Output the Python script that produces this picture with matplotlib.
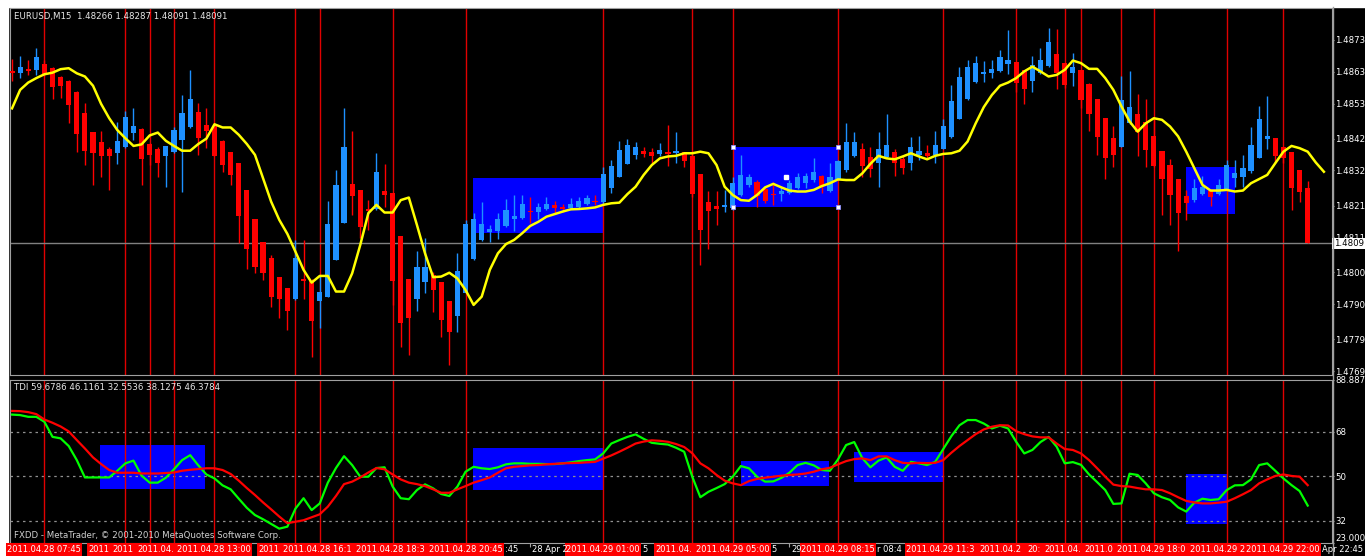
import numpy as np
import pandas as pd
import matplotlib.pyplot as plt
from matplotlib.patches import Rectangle
from matplotlib.lines import Line2D

# EURUSD M15 candles, 2011.04.28 06:45 .. 2011.04.29 22:45
open_ = [1.48631, 1.48627, 1.48639, 1.48634, 1.48655, 1.48641, 1.48613, 1.48600, 1.48566, 1.48499,
         1.48441, 1.48410, 1.48387, 1.48376, 1.48393, 1.48439, 1.48450, 1.48402, 1.48387, 1.48364,
         1.48379, 1.48415, 1.48456, 1.48502, 1.48463, 1.48460, 1.48413, 1.48378, 1.48343, 1.48259,
         1.48168, 1.48094, 1.48046, 1.47985, 1.47951, 1.47915, 1.47978, 1.47974, 1.47911, 1.47924,
         1.48039, 1.48154, 1.48277, 1.48259, 1.48198, 1.48199, 1.48257, 1.48250, 1.48114, 1.47979,
         1.47916, 1.47969, 1.47992, 1.47970, 1.47910, 1.47863, 1.47934, 1.48041, 1.48102, 1.48127,
         1.48131, 1.48147, 1.48167, 1.48172, 1.48193, 1.48191, 1.48198, 1.48212, 1.48204, 1.48203,
         1.48206, 1.48214, 1.48224, 1.48220, 1.48264, 1.48300, 1.48341, 1.48369, 1.48381, 1.48377,
         1.48371, 1.48377, 1.48376, 1.48377, 1.48367, 1.48308, 1.48220, 1.48210, 1.48204, 1.48201,
         1.48243, 1.48275, 1.48285, 1.48262, 1.48247, 1.48245, 1.48248, 1.48264, 1.48282, 1.48290,
         1.48303, 1.48257, 1.48292, 1.48320, 1.48364, 1.48388, 1.48361, 1.48345, 1.48361, 1.48379,
         1.48355, 1.48345, 1.48369, 1.48374, 1.48369, 1.48387, 1.48424, 1.48482, 1.48545, 1.48597,
         1.48623, 1.48625, 1.48631, 1.48654, 1.48661, 1.48636, 1.48601, 1.48625, 1.48649, 1.48687,
         1.48658, 1.48625, 1.48636, 1.48592, 1.48544, 1.48486, 1.48423, 1.48395, 1.48468, 1.48497,
         1.48473, 1.48429, 1.48382, 1.48338, 1.48293, 1.48240, 1.48228, 1.48245, 1.48256, 1.48246,
         1.48261, 1.48296, 1.48301, 1.48317, 1.48358, 1.48418, 1.48423, 1.48393, 1.48379, 1.48322,
         1.48266]
high = [1.48669, 1.48678, 1.48667, 1.48704, 1.48667, 1.48646, 1.48615, 1.48604, 1.48568, 1.48531,
        1.48442, 1.48445, 1.48393, 1.48473, 1.48508, 1.48517, 1.48453, 1.48405, 1.48395, 1.48397,
        1.48458, 1.48557, 1.48636, 1.48533, 1.48517, 1.48466, 1.48416, 1.48379, 1.48343, 1.48259,
        1.48168, 1.48094, 1.48055, 1.47985, 1.47951, 1.48102, 1.48102, 1.47978, 1.47992, 1.48224,
        1.48322, 1.48515, 1.48445, 1.48259, 1.48227, 1.48374, 1.48341, 1.48250, 1.48114, 1.47979,
        1.48068, 1.48107, 1.48002, 1.47970, 1.47910, 1.48060, 1.48165, 1.48188, 1.48220, 1.48149,
        1.48188, 1.48230, 1.48243, 1.48243, 1.48238, 1.48219, 1.48236, 1.48225, 1.48214, 1.48233,
        1.48238, 1.48243, 1.48243, 1.48332, 1.48353, 1.48414, 1.48418, 1.48408, 1.48393, 1.48390,
        1.48405, 1.48463, 1.48442, 1.48379, 1.48377, 1.48308, 1.48257, 1.48257, 1.48259, 1.48301,
        1.48369, 1.48309, 1.48290, 1.48269, 1.48285, 1.48269, 1.48290, 1.48311, 1.48311, 1.48358,
        1.48306, 1.48343, 1.48353, 1.48468, 1.48442, 1.48405, 1.48393, 1.48442, 1.48498, 1.48387,
        1.48369, 1.48424, 1.48429, 1.48400, 1.48445, 1.48481, 1.48589, 1.48644, 1.48667, 1.48678,
        1.48665, 1.48667, 1.48697, 1.48762, 1.48661, 1.48636, 1.48678, 1.48706, 1.48767, 1.48764,
        1.48658, 1.48690, 1.48636, 1.48594, 1.48544, 1.48486, 1.48460, 1.48615, 1.48631, 1.48561,
        1.48544, 1.48481, 1.48382, 1.48355, 1.48293, 1.48259, 1.48293, 1.48303, 1.48261, 1.48293,
        1.48353, 1.48353, 1.48369, 1.48458, 1.48523, 1.48554, 1.48423, 1.48393, 1.48379, 1.48322,
        1.48287]
low = [1.48602, 1.48610, 1.48620, 1.48620, 1.48617, 1.48544, 1.48549, 1.48470, 1.48379, 1.48337,
       1.48275, 1.48301, 1.48259, 1.48341, 1.48390, 1.48416, 1.48275, 1.48337, 1.48301, 1.48267,
       1.48374, 1.48254, 1.48453, 1.48369, 1.48390, 1.48364, 1.48316, 1.48275, 1.48093, 1.48010,
       1.47999, 1.47976, 1.47892, 1.47856, 1.47819, 1.47913, 1.47915, 1.47735, 1.47827, 1.47924,
       1.48039, 1.48154, 1.48180, 1.48107, 1.48133, 1.48196, 1.48206, 1.47898, 1.47765, 1.47741,
       1.47880, 1.47934, 1.47877, 1.47798, 1.47709, 1.47814, 1.47934, 1.48039, 1.48100, 1.48097,
       1.48104, 1.48144, 1.48131, 1.48168, 1.48154, 1.48167, 1.48196, 1.48186, 1.48191, 1.48201,
       1.48201, 1.48212, 1.48212, 1.48215, 1.48248, 1.48299, 1.48341, 1.48356, 1.48361, 1.48345,
       1.48364, 1.48334, 1.48345, 1.48332, 1.48238, 1.48023, 1.48074, 1.48149, 1.48191, 1.48196,
       1.48240, 1.48269, 1.48206, 1.48217, 1.48212, 1.48224, 1.48246, 1.48261, 1.48264, 1.48285,
       1.48248, 1.48254, 1.48290, 1.48316, 1.48361, 1.48299, 1.48299, 1.48267, 1.48358, 1.48303,
       1.48309, 1.48322, 1.48353, 1.48358, 1.48343, 1.48387, 1.48421, 1.48481, 1.48542, 1.48594,
       1.48599, 1.48610, 1.48628, 1.48622, 1.48565, 1.48529, 1.48565, 1.48622, 1.48646, 1.48575,
       1.48578, 1.48584, 1.48516, 1.48445, 1.48369, 1.48293, 1.48332, 1.48395, 1.48466, 1.48364,
       1.48332, 1.48330, 1.48181, 1.48149, 1.48068, 1.48165, 1.48222, 1.48243, 1.48207, 1.48243,
       1.48259, 1.48269, 1.48269, 1.48313, 1.48358, 1.48387, 1.48343, 1.48345, 1.48196, 1.48222,
       1.48091]
close = [1.48625, 1.48646, 1.48631, 1.48675, 1.48623, 1.48583, 1.48586, 1.48526, 1.48434, 1.48382,
         1.48376, 1.48364, 1.48367, 1.48413, 1.48489, 1.48460, 1.48357, 1.48370, 1.48343, 1.48397,
         1.48447, 1.48499, 1.48544, 1.48423, 1.48445, 1.48366, 1.48337, 1.48306, 1.48178, 1.48072,
         1.48018, 1.47997, 1.47922, 1.47915, 1.47880, 1.48044, 1.47974, 1.47847, 1.47937, 1.48152,
         1.48274, 1.48393, 1.48241, 1.48142, 1.48193, 1.48314, 1.48242, 1.47974, 1.47840, 1.47856,
         1.48018, 1.48018, 1.47945, 1.47851, 1.47814, 1.48005, 1.48152, 1.48168, 1.48152, 1.48135,
         1.48168, 1.48196, 1.48177, 1.48215, 1.48189, 1.48206, 1.48215, 1.48203, 1.48200, 1.48215,
         1.48224, 1.48235, 1.48220, 1.48308, 1.48334, 1.48384, 1.48400, 1.48393, 1.48372, 1.48367,
         1.48384, 1.48373, 1.48381, 1.48351, 1.48245, 1.48133, 1.48194, 1.48199, 1.48212, 1.48282,
         1.48306, 1.48299, 1.48240, 1.48225, 1.48243, 1.48256, 1.48282, 1.48301, 1.48303, 1.48314,
         1.48269, 1.48299, 1.48351, 1.48410, 1.48410, 1.48334, 1.48324, 1.48387, 1.48399, 1.48343,
         1.48329, 1.48395, 1.48382, 1.48367, 1.48400, 1.48460, 1.48539, 1.48613, 1.48646, 1.48657,
         1.48629, 1.48639, 1.48675, 1.48667, 1.48594, 1.48576, 1.48652, 1.48667, 1.48722, 1.48625,
         1.48589, 1.48645, 1.48542, 1.48498, 1.48424, 1.48358, 1.48369, 1.48542, 1.48519, 1.48442,
         1.48383, 1.48335, 1.48293, 1.48243, 1.48186, 1.48219, 1.48266, 1.48267, 1.48238, 1.48273,
         1.48337, 1.48311, 1.48327, 1.48400, 1.48481, 1.48427, 1.48366, 1.48358, 1.48264, 1.48254,
         1.48091]

# yellow moving average (drawn shifted, runs two bars past the last candle)
ma_yellow = [1.48515, 1.48573, 1.48596, 1.48610, 1.48622, 1.48627, 1.48638, 1.48641, 1.48625, 1.48615,
             1.48586, 1.48529, 1.48484, 1.48447, 1.48421, 1.48397, 1.48402, 1.48430, 1.48439, 1.48413,
             1.48397, 1.48382, 1.48382, 1.48403, 1.48420, 1.48465, 1.48455, 1.48455, 1.48432, 1.48403,
             1.48369, 1.48295, 1.48222, 1.48165, 1.48121, 1.48065, 1.48008, 1.47968, 1.47989, 1.47989,
             1.47940, 1.47940, 1.47997, 1.48086, 1.48186, 1.48212, 1.48188, 1.48188, 1.48227, 1.48235,
             1.48149, 1.48060, 1.47985, 1.47987, 1.47999, 1.47981, 1.47945, 1.47898, 1.47924, 1.48008,
             1.48060, 1.48089, 1.48102, 1.48123, 1.48146, 1.48159, 1.48175, 1.48183, 1.48191, 1.48198,
             1.48199, 1.48201, 1.48204, 1.48212, 1.48217, 1.48219, 1.48246, 1.48269, 1.48306, 1.48337,
             1.48358, 1.48364, 1.48366, 1.48374, 1.48374, 1.48379, 1.48374, 1.48337, 1.48269, 1.48243,
             1.48227, 1.48225, 1.48243, 1.48267, 1.48278, 1.48267, 1.48257, 1.48254, 1.48254, 1.48259,
             1.48271, 1.48280, 1.48292, 1.48290, 1.48290, 1.48311, 1.48341, 1.48366, 1.48358, 1.48355,
             1.48364, 1.48374, 1.48364, 1.48355, 1.48366, 1.48372, 1.48374, 1.48382, 1.48411, 1.48468,
             1.48519, 1.48557, 1.48586, 1.48596, 1.48610, 1.48631, 1.48646, 1.48631, 1.48615, 1.48620,
             1.48636, 1.48665, 1.48657, 1.48639, 1.48639, 1.48610, 1.48573, 1.48521, 1.48474, 1.48442,
             1.48468, 1.48484, 1.48479, 1.48458, 1.48427, 1.48379, 1.48327, 1.48275, 1.48257, 1.48257,
             1.48259, 1.48254, 1.48257, 1.48280, 1.48293, 1.48306, 1.48343, 1.48379, 1.48397, 1.48390,
             1.48379, 1.48345, 1.48316]

# TDI: price line (green) and signal line (red)
tdi_green = [74.9, 74.7, 74.0, 74.0, 72.0, 65.9, 65.3, 62.2, 56.5, 49.5,
             49.5, 49.5, 49.5, 52.2, 55.2, 56.3, 50.2, 47.4, 47.4, 49.4,
             52.8, 56.5, 58.5, 54.4, 50.7, 49.1, 46.3, 44.7, 40.9, 37.2,
             34.3, 32.6, 30.7, 28.8, 29.6, 36.9, 41.1, 36.3, 39.0, 47.4,
             53.3, 58.1, 54.5, 49.8, 49.8, 53.3, 53.6, 45.8, 41.1, 40.7,
             44.4, 46.7, 45.1, 42.8, 42.0, 45.8, 51.8, 53.8, 53.2, 52.9,
             53.6, 54.8, 55.2, 55.2, 55.0, 55.0, 54.9, 54.9, 55.2, 55.6,
             56.1, 56.5, 56.8, 59.2, 63.2, 64.6, 65.9, 66.9, 65.1, 63.5,
             63.1, 62.8, 61.5, 59.9, 49.8, 41.5, 43.7, 45.2, 46.8, 49.8,
             54.1, 53.2, 49.8, 47.8, 47.9, 49.3, 51.4, 54.5, 55.4, 54.4,
             52.5, 52.2, 56.8, 62.6, 63.8, 57.3, 53.6, 56.3, 57.6, 53.8,
             52.2, 55.8, 55.2, 54.5, 55.8, 61.0, 66.2, 70.6, 72.7, 72.7,
             71.3, 69.3, 70.4, 69.3, 63.9, 59.2, 60.6, 63.8, 65.9, 61.9,
             55.2, 55.7, 54.6, 50.7, 47.6, 44.4, 38.8, 39.0, 51.0, 50.5,
             47.1, 43.1, 41.5, 40.4, 37.4, 35.7, 39.3, 40.9, 40.4, 40.7,
             44.4, 46.3, 46.4, 48.7, 54.5, 55.2, 52.2, 49.1, 46.4, 44.0,
             38.1275]
tdi_red = [76.4, 76.3, 75.9, 75.1, 72.9, 71.6, 70.1, 68.1, 64.6, 61.2,
           57.6, 54.9, 52.5, 51.4, 51.4, 51.4, 51.1, 51.1, 51.1, 51.3,
           51.5, 52.2, 52.6, 52.9, 53.2, 53.2, 52.5, 50.9, 48.2, 45.2,
           42.4, 39.4, 36.6, 33.7, 31.0, 31.6, 32.2, 33.4, 34.6, 37.7,
           42.0, 46.8, 47.8, 49.5, 51.5, 53.3, 52.8, 50.7, 48.7, 47.4,
           46.8, 46.0, 44.7, 43.3, 43.3, 44.7, 46.0, 47.4, 48.4, 49.5,
           51.4, 53.2, 53.8, 54.1, 54.4, 54.5, 54.8, 55.0, 55.2, 55.3,
           55.4, 55.6, 55.8, 57.1, 58.4, 59.9, 61.5, 63.2, 64.0, 64.5,
           64.3, 63.9, 63.0, 61.8, 59.3, 55.2, 53.2, 50.5, 48.2, 47.1,
           46.4, 48.0, 48.9, 49.4, 49.8, 50.2, 50.5, 50.7, 51.1, 51.8,
           52.8, 53.4, 54.8, 56.1, 56.9, 57.2, 56.5, 58.0, 58.0, 56.5,
           55.4, 55.2, 55.4, 55.3, 55.4, 56.5, 59.5, 62.2, 64.6, 67.0,
           68.9, 70.0, 70.6, 70.5, 68.2, 67.0, 66.1, 65.7, 65.7, 63.2,
           61.0, 60.6, 59.2, 56.5, 53.2, 49.8, 46.6, 46.0, 45.8, 45.2,
           44.7, 44.7, 44.4, 43.1, 41.5, 40.0, 39.4, 39.0, 39.0, 39.3,
           39.7, 41.1, 42.7, 44.4, 47.1, 48.7, 50.1, 50.7, 50.1, 49.8,
           46.3784]

# bars marked with vertical lines, and what is left readable of each time-axis label
vline_bars = [4, 14, 17, 20, 25, 35, 38, 47, 56, 73, 84, 89, 102, 115, 124, 130, 132, 137, 141, 150, 157]
vline_labels = ['2011.04.28 07:45', '2011', '2011', '2011.04.', '2011.04.28 13:00', '2011',
                '2011.04.28 16:1', '2011.04.28 18:3', '2011.04.28 20:45', '2011.04.29 01:00',
                '2011.04.', '2011.04.29 05:00', '2011.04.29 08:15', '2011.04.29 11:3', '2011.04.2',
                '20:', '2011.04.', '2011.0', '2011.04.29 18:0', '2011.04.29 2', '2011.04.29 22:00']
# ordinary time-axis text still visible: (bar, text, placed after the red label of that bar / at tick)
axis_bits = [(56, ':45', 'after'), (64, '28 Apr 2', 'tick'), (73, '5', 'after'), (89, '5', 'after'),
             (96, '29', 'tick'), (102, 'r 08:4', 'after'), (157, 'Apr 22:45', 'after')]

# rectangles: (first bar, last bar, bottom, top)
price_boxes = [(56.9, 73.0, 1.48125, 1.48295), (89.0, 102.0, 1.48204, 1.48393), (145.0, 151.0, 1.48184, 1.48330)]
tdi_boxes = [(10.9, 23.8, 44.9, 62.8), (56.9, 73.0, 44.5, 61.3), (90.0, 100.9, 46.2, 56.3),
             (104.0, 115.0, 47.8, 59.9), (145.0, 150.0, 30.8, 51.0)]

price_ticks = [1.4769, 1.4779, 1.4790, 1.4800, 1.4811, 1.4821, 1.4832, 1.4842, 1.4853, 1.4863, 1.4873]
price_labels = ['1.4769', '1.4779', '1.4790', '1.4800', '1.4811', '1.4821', '1.4832', '1.4842', '1.4853', '1.4863', '1.4873']
tdi_ticks = [23, 32, 50, 68, 88.8873]
tdi_labels = ['23.000', '32', '50', '68', '88.8873']
tdi_header = 'TDI 59.6786 46.1161 32.5536 38.1275 46.3784'

W, H = 1365, 556
fig = plt.figure(figsize=(W / 100, H / 100), dpi=100, facecolor='black')


def fx(p):
    return p / W


def fy(p):
    return 1 - p / H


fig.add_artist(Rectangle((0, fy(7)), 1, 1 - fy(7), transform=fig.transFigure, color='white', zorder=-5))
fig.add_artist(Rectangle((0, 0), fx(8), 1, transform=fig.transFigure, color='white', zorder=-5))
fig.add_artist(Line2D([fx(1332.5)] * 2, [0, fy(7)], transform=fig.transFigure, color='#a0a0a0', lw=1))

ax = fig.add_axes([fx(10), fy(375), fx(1332) - fx(10), fy(8) - fy(375)], facecolor='black')
ax2 = fig.add_axes([fx(10), fy(543), fx(1332) - fx(10), fy(380) - fy(543)], facecolor='black')

idx = np.arange(len(close))
o = np.array(open_)
c = np.array(close)
cols = np.where(c >= o, '#1e90ff', '#ff0000')

# main chart
for b0, b1, lo, hi in price_boxes:
    ax.add_patch(Rectangle((b0, lo), b1 - b0, hi - lo, color='#0000ff', lw=0, zorder=1))
for b in vline_bars:
    ax.axvline(b, color='#e00000', lw=1, zorder=2)
ax.axhline(close[-1], color='#808080', lw=1, zorder=2)
ax.vlines(idx, low, high, colors=cols, lw=1, zorder=3)
ax.bar(idx, np.maximum(np.abs(c - o), 0.00003), bottom=np.minimum(o, c), width=0.64,
       color=cols, lw=0, zorder=3)
ax.plot(np.arange(len(ma_yellow)), ma_yellow, color='#ffff00', lw=1.8, zorder=4)

# selection handles on the middle box
b0, b1, lo, hi = price_boxes[1]
ax.plot([b0, b1, b0, b1], [lo, lo, hi, hi], 's', ms=2.5, mfc='white', mec='#9090ff', mew=0.6, zorder=5)
ax.plot([95.6], [1.48300], 's', ms=2.5, color='white', zorder=5)

ax.set_xlim(-0.25, 163)
ax.set_ylim(1.47678, 1.48830)
ax.set_xticks([])
ax.yaxis.tick_right()
ax.set_yticks(price_ticks, price_labels)
ax.tick_params(axis='y', colors='#a0a0a0', labelcolor='white', labelsize=6.2, length=1.5, pad=0.8)
for s in ax.spines.values():
    s.set_color('#a0a0a0')

ax.annotate(f'{close[-1]:.4f}', xy=(1, close[-1]), xycoords=('axes fraction', 'data'),
            xytext=(1.2, 0), textcoords='offset points', ha='left', va='center', fontsize=6.2,
            color='black', annotation_clip=False, zorder=10,
            bbox=dict(facecolor='white', edgecolor='none', pad=1.0))

fig.text(fx(14), fy(17), f'EURUSD,M15  {open_[-1]:.5f} {high[-1]:.5f} {low[-1]:.5f} {close[-1]:.5f}',
         color='#e8e8e8', fontsize=6.2, ha='left', va='center')

# TDI window
for b0, b1, lo, hi in tdi_boxes:
    ax2.add_patch(Rectangle((b0, lo), b1 - b0, hi - lo, color='#0000ff', lw=0, zorder=1))
for lv in (32, 50, 68):
    ax2.axhline(lv, color='#909090', ls=(0, (2, 3)), lw=0.9, zorder=1.5)
for b in vline_bars:
    ax2.axvline(b, color='#e00000', lw=1, zorder=2)
ax2.plot(idx, tdi_green, color='#00ff00', lw=1.6, zorder=3)
ax2.plot(idx, tdi_red, color='#ff0000', lw=1.6, zorder=4)

ax2.set_xlim(-0.25, 163)
ax2.set_ylim(23, 88.8873)
ax2.yaxis.tick_right()
ax2.set_yticks(tdi_ticks, tdi_labels)
ax2.tick_params(axis='y', colors='#a0a0a0', labelcolor='white', labelsize=6.2, length=1.5, pad=0.8)
ax2.get_yticklabels()[0].set_va('bottom')
for s in ax2.spines.values():
    s.set_color('#a0a0a0')

fig.text(fx(14), fy(387), tdi_header, color='#e8e8e8', fontsize=6.2, ha='left', va='center')
fig.text(fx(14), fy(535), 'FXDD - MetaTrader, \u00a9 2001-2010 MetaQuotes Software Corp.',
         color='#d0d0d0', fontsize=6.2, ha='left', va='center')

# time axis row
ax2.set_xticks(list(range(0, len(close), 8)))
ax2.set_xticklabels([])
ax2.tick_params(axis='x', colors='#a0a0a0', length=3)

label_w = 76
bar_px = {b: ax2.transData.transform((b, 0))[0] for b in range(len(close))}
left_px = [bar_px[b] - label_w / 2 for b in vline_bars]
for k, b in enumerate(vline_bars):
    x0 = left_px[k]
    x1 = x0 + label_w if k == len(vline_bars) - 1 else min(x0 + label_w, left_px[k + 1])
    fig.add_artist(Rectangle((fx(x0), 0), fx(x1 - x0), fy(543), transform=fig.transFigure,
                             color='#ff0000', lw=0, zorder=5))
    fig.text(fx(x0 + 1), fy(550), vline_labels[k], color='white', fontsize=6,
             ha='left', va='center', zorder=6)
for b, txt, where in axis_bits:
    x = bar_px[b] + label_w / 2 + 1 if where == 'after' else bar_px[b] + 2
    fig.text(fx(x), fy(550), txt, color='white', fontsize=6, ha='left', va='center', zorder=6)

fig.savefig('out.png', dpi=100, facecolor='black')
